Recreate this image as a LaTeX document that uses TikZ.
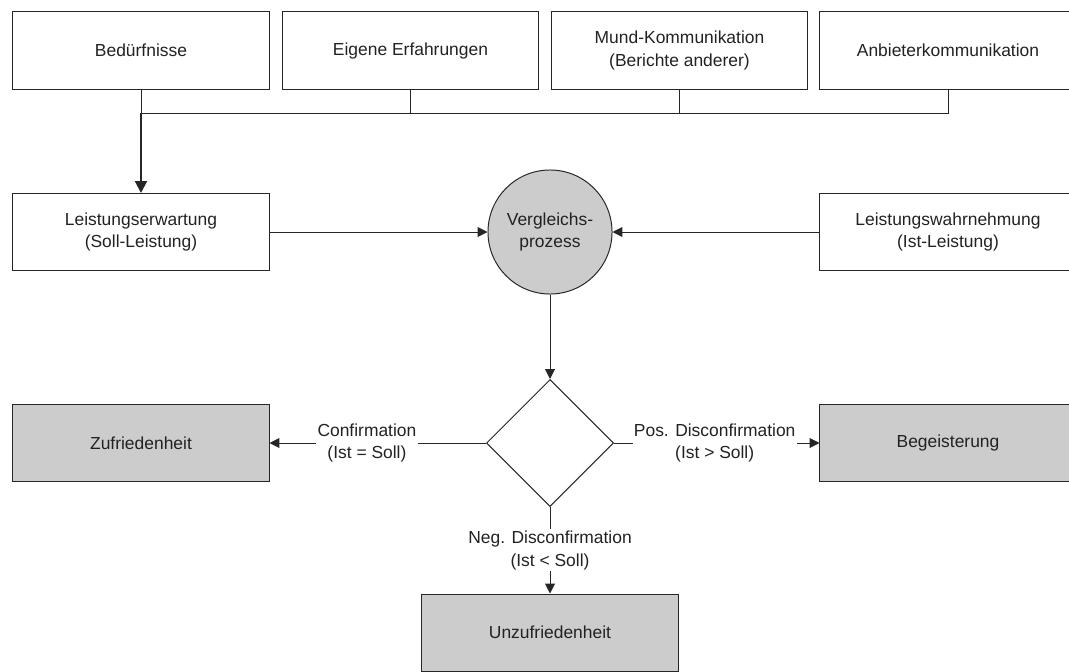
\documentclass[tikz,border=0pt]{standalone}
\usepackage{fontspec}
\setmainfont{Liberation Sans}
\usetikzlibrary{arrows.meta,shapes.geometric}
\definecolor{boxgray}{RGB}{204,204,204}
\definecolor{linegray}{RGB}{38,38,38}
\definecolor{textgray}{RGB}{34,34,34}
\tikzset{
  box/.style={draw=linegray, line width=0.7pt, minimum width=6.4cm, minimum height=1.925cm,
    align=center, inner sep=2pt, text=textgray, font=\fontsize{12.4}{16.3}\selectfont},
  result/.style={box, fill=boxgray},
  arr/.style={draw=linegray, line width=0.7pt, -{Triangle[length=7pt,width=7pt]}},
  thickarr/.style={draw=linegray, line width=1.5pt, -{Triangle[length=8.5pt,width=8.5pt]}},
  conn/.style={draw=linegray, line width=0.7pt},
  lbl/.style={fill=white, align=center, inner sep=1pt, text=textgray, font=\fontsize{12.4}{16.3}\selectfont}
}
\begin{document}
\begin{tikzpicture}[x=0.025cm, y=-0.025cm]
\useasboundingbox (0,0) rectangle (1069,671);
% sources
\node[box] (bed) at (141,50.5) {Bedürfnisse};
\node[box] (erf) at (410.5,50.5) {Eigene Erfahrungen};
\node[box] (mund) at (679.5,50.5) {Mund-Kommunikation\\(Berichte anderer)};
\node[box] (anb) at (948,50.5) {Anbieterkommunikation};
% soll / ist
\node[box] (soll) at (141,232) {Leistungserwartung\\(Soll-Leistung)};
\node[box] (ist) at (948,232) {Leistungswahrnehmung\\(Ist-Leistung)};
\node[circle, draw=linegray, line width=0.7pt, fill=boxgray, minimum size=3.1cm, inner sep=0pt,
  align=center, text=textgray, font=\fontsize{12.4}{16.3}\selectfont] (vgl) at (550,232) {Vergleichs-\\prozess};
\node[diamond, draw=linegray, line width=0.7pt, minimum size=3.175cm, inner sep=0pt] (dia) at (550,443) {};
% outcomes
\node[result] (zuf) at (141,443) {Zufriedenheit};
\node[result] (beg) at (948,443) {Begeisterung};
\node[result] (unz) at (550,632.5) {Unzufriedenheit};
% bus line
\coordinate (bus) at (141,113);
\draw[conn] (bed.south) -- (bus) -| (anb.south);
\draw[conn] (erf.south) -- (erf.south |- bus);
\draw[conn] (mund.south) -- (mund.south |- bus);
\draw[thickarr] (bus) -- (soll.north);
% comparison
\draw[arr] (soll.east) -- (vgl.west);
\draw[arr] (ist.west) -- (vgl.east);
\draw[arr] (vgl.south) -- (dia.north);
\draw[arr] (dia.west) -- node[lbl, pos=0.55] {Confirmation\\(Ist = Soll)} (zuf.east);
\draw[arr] (dia.east) -- node[lbl, pos=0.49] {Pos. Disconfirmation\\(Ist > Soll)} (beg.west);
\draw[arr] (dia.south) -- node[lbl] {Neg. Disconfirmation\\(Ist < Soll)} (unz.north);
\end{tikzpicture}
\end{document}
